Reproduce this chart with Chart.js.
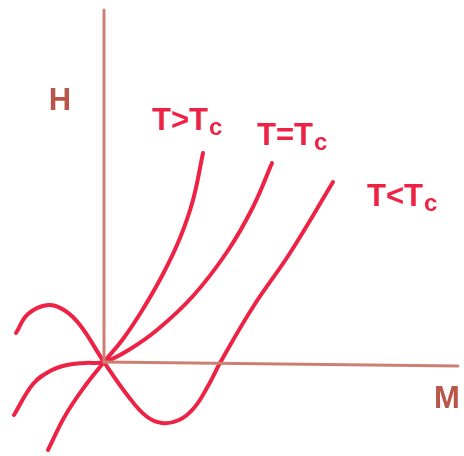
<!DOCTYPE html>
<html>
<head>
<meta charset="utf-8">
<title>H vs M</title>
<script src="https://cdn.jsdelivr.net/npm/chart.js@4/dist/chart.umd.min.js"></script>
<style>
  html, body { margin: 0; padding: 0; background: #fff; }
  #chart { display: block; }
</style>
</head>
<body>
<canvas id="chart" width="464" height="456"></canvas>
<script>
// isotherms H(M), [M, H]
const aboveTc = [
  [-5.6, -8.8], [-3.9, -5.4], [-1.9, -2.4], [0, 0], [1.9, 2.3],
  [3.9, 5.3], [5.9, 8.8], [7.6, 12.4], [8.9, 16.2], [9.9, 20.9]
];
const atTc = [
  [-9.0, -5.3], [-7.1, -2.2], [-5.4, -0.9], [-3.7, -0.3], [-1.9, -0.1], [0, 0],
  [2.3, 1.1], [5.3, 3.2], [8.9, 6.6], [12.3, 11.0], [14.9, 15.5], [16.8, 19.9]
];
const belowTc = [
  [-8.8, 2.9], [-7.6, 4.8], [-5.6, 5.7], [-4.0, 5.2], [-2.4, 3.7],
  [0, 0], [2.4, -3.4], [4.2, -5.4], [5.8, -6.1], [7.5, -5.8],
  [9.0, -4.6], [10.4, -2.4], [11.6, -0.1], [14.9, 5.5], [18.6, 10.9], [22.9, 18.0]
];

// axes
const hAxis = [[0, 0], [0, 35.2]];
const mAxis = [[0, 0], [35.4, -0.4]];

// labels: [text, subscript, M, H]
const curveLabels = [
  ['T>T', 'c', 4.8, 23.2],
  ['T=T', 'c', 15.3, 21.7],
  ['T<T', 'c', 26.3, 15.6]
];
const axisLabels = [
  ['H', -4.4, 25.2],
  ['M', 34.3, -4.6]
];

const RED = 'rgb(238, 34, 68)';
const BROWN = 'rgb(204, 128, 116)';
const BROWN_TEXT = 'rgb(184, 86, 74)';

const pts = arr => arr.map(p => ({ x: p[0], y: p[1] }));

function curve(data, color, width) {
  return {
    data: pts(data),
    showLine: true,
    borderColor: color,
    borderWidth: width,
    pointRadius: 0,
    tension: 0.4,
    borderCapStyle: 'round',
    borderJoinStyle: 'round'
  };
}

const sketchLabels = {
  id: 'sketchLabels',
  afterDatasetsDraw(chart) {
    const { ctx, scales: { x, y } } = chart;
    ctx.save();
    ctx.textBaseline = 'alphabetic';

    ctx.fillStyle = RED;
    curveLabels.forEach(([main, sub, m, h]) => {
      const px = x.getPixelForValue(m);
      const py = y.getPixelForValue(h);
      ctx.font = 'bold 31px "Liberation Sans"';
      ctx.textAlign = 'left';
      ctx.fillText(main, px, py);
      const w = ctx.measureText(main).width;
      ctx.font = 'bold 24px "Liberation Sans"';
      ctx.fillText(sub, px + w + 1, py + 5);
    });

    ctx.fillStyle = BROWN_TEXT;
    ctx.font = 'bold 31px "Liberation Sans"';
    ctx.textAlign = 'center';
    axisLabels.forEach(([t, m, h]) => {
      ctx.fillText(t, x.getPixelForValue(m), y.getPixelForValue(h));
    });
    ctx.restore();
  }
};

new Chart(document.getElementById('chart'), {
  type: 'scatter',
  data: {
    datasets: [
      curve(hAxis, BROWN, 3),
      curve(mAxis, BROWN, 3),
      curve(aboveTc, RED, 4),
      curve(atTc, RED, 4),
      curve(belowTc, RED, 4)
    ]
  },
  options: {
    responsive: false,
    animation: false,
    layout: { padding: 0 },
    plugins: {
      legend: { display: false },
      tooltip: { enabled: false }
    },
    scales: {
      x: { type: 'linear', min: -10.4, max: 36.0, display: false },
      y: { type: 'linear', min: -9.4, max: 36.2, display: false }
    }
  },
  plugins: [sketchLabels]
});
</script>
</body>
</html>
